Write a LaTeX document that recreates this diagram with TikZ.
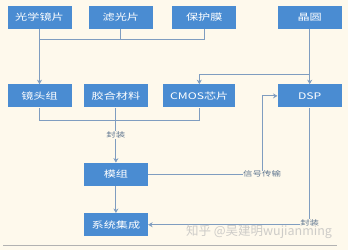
\documentclass[tikz,border=0pt]{standalone}
\usepackage{fontspec}
\newfontfamily\cjk[FakeStretch=1.35]{Noto Sans CJK SC}
\newfontfamily\cjkmark{Noto Sans CJK SC}
\usetikzlibrary{arrows.meta, positioning}
\definecolor{boxblue}{HTML}{4A8CD2}
\definecolor{linegray}{HTML}{7F9DC0}
\definecolor{paper}{HTML}{FEF9EC}
\tikzstyle{arrow} = [line width=0.9pt, draw=linegray, -{Stealth[length=4.5pt,width=5pt]}]
\tikzstyle{link} = [line width=0.9pt, draw=linegray]
\tikzstyle{component} = [rectangle, minimum width=64pt, minimum height=23pt, inner sep=0pt, text centered, fill=boxblue, text=white, font=\cjk\fontsize{9}{10}\selectfont]
\tikzstyle{tag} = [fill=paper, inner sep=0.5pt, text=linegray!75!black, font=\cjk\fontsize{7}{8}\selectfont]
\begin{document}
\begin{tikzpicture}[x=1pt, y=-1pt]

\fill [paper] (0,0) rectangle (348,250);

% Materials
\node (optic) [component] at (39.5,17.5) {光学镜片};
\node (filter) [component, right=17pt of optic] {滤光片};
\node (cover) [component, right=19pt of filter] {保护膜};
\node (wafer) [component, right=41pt of cover] {晶圆};

% Parts
\node (lens) [component, below=55pt of optic] {镜头组};
\node (glue) [component, right=12pt of lens] {胶合材料};
\node (cmos) [component, right=15pt of glue, minimum width=72pt] {CMOS芯片};
\node (dsp) [component, below=55pt of wafer] {DSP};

% Assembly
\node (module) [component, below=55pt of glue] {模组};
\node (system) [component, below=27pt of module] {系统集成};

\coordinate (topjoin) at ([yshift=-10pt]optic.south);
\coordinate (wafersplit) at ([yshift=-45pt]wafer.south);
\coordinate (botjoin) at ([yshift=-13pt]lens.south);
\coordinate (sigcorner) at ([xshift=114pt]module.east);

% Connections
\draw [link] (filter.south) -- (filter.south |- topjoin);
\draw [link] (cover.south) |- (topjoin);
\draw [arrow] (optic.south) -- (lens.north);
\draw [arrow] (wafer.south) -- (dsp.north);
\draw [arrow] (wafersplit) -| (cmos.north);
\draw [link] (lens.south) |- (cmos.south |- botjoin) -- (cmos.south);
\draw [arrow] (glue.south) -- node (pack) [tag] {封装} (module.north);
\draw [arrow] (module.south) -- (system.north);
\draw [arrow] (module.east) -- (sigcorner) |- (dsp.west);
\node (signal) [tag] at (sigcorner) {信号传输};
\draw [arrow] (dsp.south) |- node (pack2) [tag, pos=0.5, yshift=2pt] {封装} (system.east);

% Footer
\node (mark) [text=gray!55, opacity=0.7, inner sep=0pt, font=\cjkmark\fontsize{12.5}{13}\selectfont] at (259,231.5) {知乎 @吴建明wujianming};
\draw [gray!60, line width=0.8pt] (3,245) -- (337,245);

\end{tikzpicture}
\end{document}
